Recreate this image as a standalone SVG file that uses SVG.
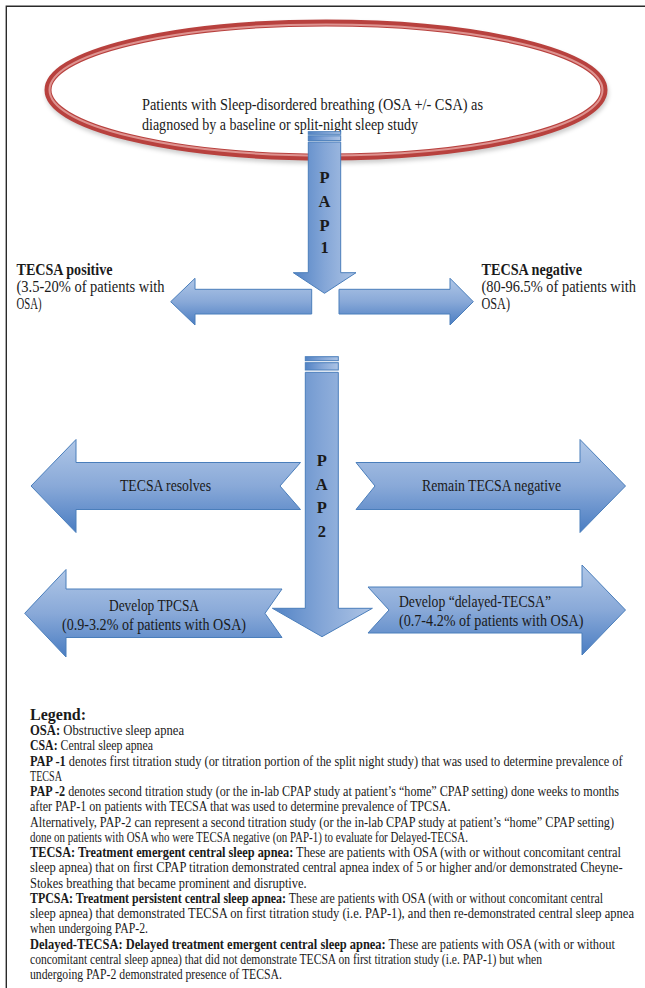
<svg xmlns="http://www.w3.org/2000/svg" width="645" height="988" viewBox="0 0 645 988">
<defs>
<linearGradient id="gh" x1="0" y1="0" x2="0" y2="1">
<stop offset="0" stop-color="#b0c7e7"/>
<stop offset="0.5" stop-color="#89a9d8"/>
<stop offset="1" stop-color="#4a7dc2"/>
</linearGradient>
<linearGradient id="gv" x1="0" y1="0" x2="1" y2="0">
<stop offset="0" stop-color="#5283c5"/>
<stop offset="0.5" stop-color="#84a6d7"/>
<stop offset="1" stop-color="#adc4e5"/>
</linearGradient>
<filter id="blur" x="-10%" y="-20%" width="120%" height="140%">
<feGaussianBlur stdDeviation="2"/>
</filter>
</defs>
<style>
.blk{stroke:#4a7ebb;stroke-width:1}
.h{fill:url(#gh)}
.v{fill:url(#gv)}
text{font-family:"Liberation Serif","Times New Roman",serif;fill:#1a1a1a}
.lbl{font-size:16px}
.pap{font-size:16.5px;font-weight:bold;text-anchor:middle}
.lg{font-size:14px}
.b{font-weight:bold}
</style>
<rect width="645" height="988" fill="#fff"/>
<path d="M6.3,988 V6.3 H645" fill="none" stroke="#2a2a2a" stroke-width="1.4"/>

<g id="start">
<ellipse cx="327" cy="93" rx="278" ry="67" fill="none" stroke="#000" stroke-opacity="0.2" stroke-width="7" filter="url(#blur)"/>
<ellipse cx="326" cy="90" rx="278" ry="67" fill="#fff" stroke="#b8413e" stroke-width="7"/>
<ellipse cx="326" cy="90" rx="276.5" ry="65.5" fill="none" stroke="#de9390" stroke-width="2"/>
<text class="lbl" font-size="17.5" x="142" y="110" textLength="341" lengthAdjust="spacingAndGlyphs">Patients with Sleep-disordered breathing (OSA +/- CSA) as</text>
<text class="lbl" font-size="17.5" x="142" y="129.5" textLength="276" lengthAdjust="spacingAndGlyphs">diagnosed by a baseline or split-night sleep study</text>
</g>

<g id="connectors">
<g id="pap1">
<rect class="blk v" x="308.3" y="131.7" width="32.4" height="2.6"/>
<rect class="blk v" x="308.3" y="135.8" width="32.4" height="4.8"/>
<path class="blk v" d="M308.3,142 H340.7 V272.7 H356 L324.5,293.3 L293.3,272.7 H308.3 Z"/>
<text class="pap" x="324.5" y="183.3">P</text>
<text class="pap" x="324.5" y="207.3">A</text>
<text class="pap" x="324.5" y="230.7">P</text>
<text class="pap" x="324.5" y="253.3">1</text>
</g>
<path id="pap1-left" class="blk h" d="M170.7,301.7 L195,278.3 V289.3 H311.7 V314 H195 V325 Z"/>
<path id="pap1-right" class="blk h" d="M339,289.3 H450 V278.3 L473.3,301.7 L450,325 V314 H339 Z"/>
<g id="pap2">
<rect class="blk v" x="305.3" y="356.7" width="33" height="4"/>
<rect class="blk v" x="305.3" y="362.7" width="33" height="7.3"/>
<path class="blk v" d="M305.3,372.3 H338.3 V608.3 H372.4 L322,636.7 L272.4,608.3 H305.3 Z"/>
<text class="pap" x="321.8" y="466">P</text>
<text class="pap" x="321.8" y="490">A</text>
<text class="pap" x="321.8" y="513">P</text>
<text class="pap" x="321.8" y="537">2</text>
</g>
</g>

<g id="tecsa-positive">
<text class="lbl b" x="16.5" y="275" textLength="96" lengthAdjust="spacingAndGlyphs">TECSA positive</text>
<text class="lbl" x="16.5" y="292" textLength="148" lengthAdjust="spacingAndGlyphs">(3.5-20% of patients with</text>
<text class="lbl" x="16.5" y="309" textLength="25" lengthAdjust="spacingAndGlyphs">OSA)</text>
</g>
<g id="tecsa-negative">
<text class="lbl b" x="481.5" y="275" textLength="100.5" lengthAdjust="spacingAndGlyphs">TECSA negative</text>
<text class="lbl" x="481.5" y="292" textLength="154.5" lengthAdjust="spacingAndGlyphs">(80-96.5% of patients with</text>
<text class="lbl" x="481.5" y="309" textLength="28.5" lengthAdjust="spacingAndGlyphs">OSA)</text>
</g>

<g id="tecsa-resolves">
<path class="blk h" d="M31,486 L76,439.5 V462.5 H300.5 L280,486 L300.5,509.5 H76 V532.5 Z"/>
<text class="lbl" x="120" y="490.5" textLength="91" lengthAdjust="spacingAndGlyphs">TECSA resolves</text>
</g>
<g id="remain-negative">
<path class="blk h" d="M356,462.5 H580 V439.5 L625.5,486 L580,532.5 V509.5 H356 L375,486 Z"/>
<text class="lbl" x="422" y="490.5" textLength="139" lengthAdjust="spacingAndGlyphs">Remain TECSA negative</text>
</g>
<g id="develop-tpcsa">
<path class="blk h" d="M24.7,613.3 L66,569.5 V589 H282 L265,613.3 L282,637.5 H66 V657 Z"/>
<text class="lbl" x="109" y="611" textLength="90" lengthAdjust="spacingAndGlyphs">Develop TPCSA</text>
<text class="lbl" x="62" y="629.5" textLength="184" lengthAdjust="spacingAndGlyphs">(0.9-3.2% of patients with OSA)</text>
</g>
<g id="develop-delayed">
<path class="blk h" d="M368,587 H582 V565 L625.5,610 L582,655 V633 H368 L389,610 Z"/>
<text class="lbl" x="399" y="607" textLength="152" lengthAdjust="spacingAndGlyphs">Develop “delayed-TECSA”</text>
<text class="lbl" x="399" y="625.5" textLength="184.5" lengthAdjust="spacingAndGlyphs">(0.7-4.2% of patients with OSA)</text>
</g>

<g id="legend">
<text x="30" y="720" font-size="16" font-weight="bold">Legend:</text>
<text class="lg" x="30" y="735" textLength="154" lengthAdjust="spacingAndGlyphs"><tspan class="b">OSA:</tspan> Obstructive sleep apnea</text>
<text class="lg" x="30" y="750.25" textLength="123" lengthAdjust="spacingAndGlyphs"><tspan class="b">CSA:</tspan> Central sleep apnea</text>
<text class="lg" x="30" y="765.5" textLength="592.6" lengthAdjust="spacingAndGlyphs"><tspan class="b">PAP -1</tspan> denotes first titration study (or titration portion of the split night study) that was used to determine prevalence of</text>
<text class="lg" x="30" y="780.75" textLength="32" lengthAdjust="spacingAndGlyphs">TECSA</text>
<text class="lg" x="30" y="796" textLength="589" lengthAdjust="spacingAndGlyphs"><tspan class="b">PAP -2</tspan> denotes second titration study (or the in-lab CPAP study at patient’s “home” CPAP setting) done weeks to months</text>
<text class="lg" x="30" y="811.25" textLength="420.6" lengthAdjust="spacingAndGlyphs">after PAP-1 on patients with TECSA that was used to determine prevalence of TPCSA.</text>
<text class="lg" x="30" y="826.5" textLength="584" lengthAdjust="spacingAndGlyphs">Alternatively, PAP-2 can represent a second titration study (or the in-lab CPAP study at patient’s “home” CPAP setting)</text>
<text class="lg" x="30" y="841.75" textLength="438" lengthAdjust="spacingAndGlyphs">done on patients with OSA who were TECSA negative (on PAP-1) to evaluate for Delayed-TECSA.</text>
<text class="lg" x="30" y="857" textLength="591" lengthAdjust="spacingAndGlyphs"><tspan class="b">TECSA: Treatment emergent central sleep apnea:</tspan> These are patients with OSA (with or without concomitant central</text>
<text class="lg" x="30" y="872.25" textLength="592.6" lengthAdjust="spacingAndGlyphs">sleep apnea) that on first CPAP titration demonstrated central apnea index of 5 or higher and/or demonstrated Cheyne-</text>
<text class="lg" x="30" y="887.5" textLength="276.6" lengthAdjust="spacingAndGlyphs">Stokes breathing that became prominent and disruptive.</text>
<text class="lg" x="30" y="902.75" textLength="573" lengthAdjust="spacingAndGlyphs"><tspan class="b">TPCSA: Treatment persistent central sleep apnea:</tspan> These are patients with OSA (with or without concomitant central</text>
<text class="lg" x="30" y="918" textLength="604" lengthAdjust="spacingAndGlyphs">sleep apnea) that demonstrated TECSA on first titration study (i.e. PAP-1), and then re-demonstrated central sleep apnea</text>
<text class="lg" x="30" y="933.25" textLength="118" lengthAdjust="spacingAndGlyphs">when undergoing PAP-2.</text>
<text class="lg" x="30" y="948.5" textLength="585" lengthAdjust="spacingAndGlyphs"><tspan class="b">Delayed-TECSA: Delayed treatment emergent central sleep apnea:</tspan>  These are patients with OSA (with or without</text>
<text class="lg" x="30" y="963.75" textLength="512" lengthAdjust="spacingAndGlyphs">concomitant central sleep apnea) that did not demonstrate TECSA on first titration study (i.e. PAP-1) but when</text>
<text class="lg" x="30" y="979" textLength="252" lengthAdjust="spacingAndGlyphs">undergoing PAP-2 demonstrated presence of TECSA.</text>
</g>
</svg>
